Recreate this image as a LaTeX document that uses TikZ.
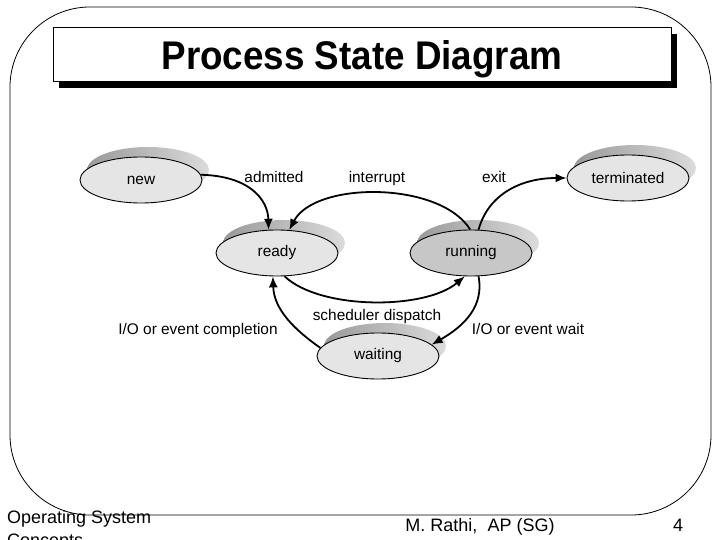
\documentclass[tikz,border=0pt]{standalone}
\usepackage{graphicx}
\usepackage{fontspec}
\setmainfont{Liberation Sans}
\usetikzlibrary{arrows.meta,shapes.geometric,shadows}
\begin{document}
\begin{tikzpicture}[x=1pt,y=-1pt,
  state/.style={ellipse,draw=black,line width=0.9pt,minimum width=122pt,minimum height=46pt,
    inner sep=0pt,fill=black!10,font=\fontsize{15.4}{18}\selectfont,
    general shadow={shadow xshift=7pt,shadow yshift=10pt,draw=none,
      left color=black!40,right color=black!14}},
  runstate/.style={state,fill=black!22},
  lbl/.style={font=\fontsize{15.4}{18}\selectfont,inner sep=0pt,anchor=base},
  foot/.style={font=\fontsize{18}{21}\selectfont,inner sep=0pt},
  conn/.style={line width=1.8pt,-{Latex[length=11pt,width=9pt]}}]
\useasboundingbox (0,0) rectangle (720,540);
% frame
\draw[line width=0.8pt,rounded corners=80pt] (10,7) rectangle (711,515);
% title box
\fill[black] (59,34) rectangle (677,88);
\draw[line width=0.8pt,fill=white] (53,27) rectangle (671,81);
\node (title) at (362,59) {\scalebox{0.92}[1]{\fontsize{40}{44}\selectfont\bfseries Process State Diagram}};
% states
\node[state] (new) at (141,180) {new};
\node[state] (ready) at (277,253) {ready};
\node[runstate] (running) at (471,253) {running};
\node[state] (terminated) at (628,178) {terminated};
\node[state] (waiting) at (378,356) {waiting};
% labels
\node[lbl] (ladm) at (274,183) {admitted};
\node[lbl] (lint) at (377,183) {interrupt};
\node[lbl] (lexit) at (494,183) {exit};
\node[lbl] (lsch) at (377,320) {scheduler dispatch};
\node[lbl] (lcomp) at (198,334) {I/O or event completion};
\node[lbl] (lwait) at (528,334) {I/O or event wait};
% connectors
\draw[conn] (new.5) .. controls (250,176) and (268,200) .. (ready.110);
\draw[conn] (running.92) .. controls (440,181) and (315,181) .. (ready.62);
\draw[conn] (running.72) .. controls (488,195) and (520,178) .. (terminated.180);
\draw[conn] (ready.-72) .. controls (320,310) and (425,310) .. (running.-105);
\draw[conn] (running.-72) .. controls (484,305) and (466,325) .. (waiting.12);
\draw[conn] (waiting.172) .. controls (295,330) and (274,310) .. (ready.-100);
% footer
\node[foot,anchor=base west] (f1) at (7,523) {Operating System};
\node[foot,anchor=base west] (f2) at (7,546) {Concepts};
\node[foot,anchor=base] (f3) at (480,531) {M. Rathi,\ \ AP (SG)};
\node[foot,anchor=base] (f4) at (678,531) {4};
\end{tikzpicture}
\end{document}
